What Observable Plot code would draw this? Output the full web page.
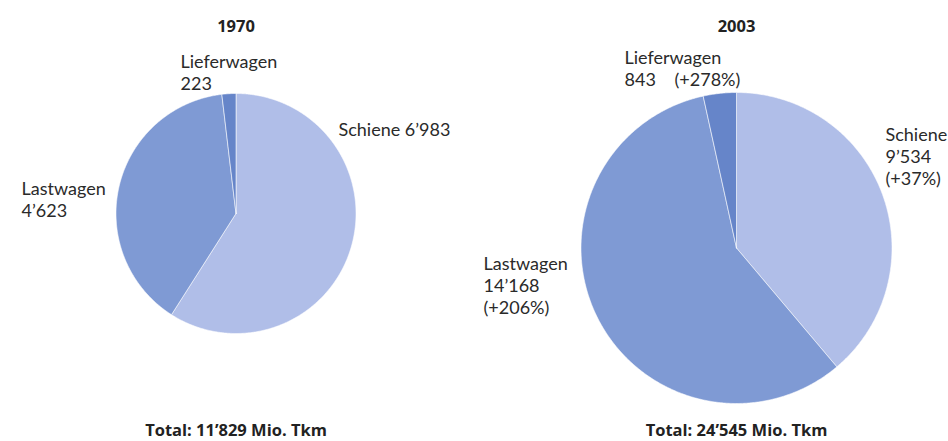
<!DOCTYPE html>
<html><head><meta charset="utf-8">
<script src="https://cdn.jsdelivr.net/npm/d3@7"></script>
<script src="https://cdn.jsdelivr.net/npm/@observablehq/plot@0.6"></script>
<style>body{margin:0;background:#fff} svg{display:block}</style>
</head><body><div id="chart"></div>
<script>
// ---- data ----
const categories = ["Schiene", "Lastwagen", "Lieferwagen"];
const years = ["1970", "2003"];
const values1970 = [6983, 4623, 223];
const values2003 = [9534, 14168, 843];
const changes2003 = ["+37%", "+206%", "+278%"];
const totals = [11829, 24545];
const colors = ["#b0bee8", "#7f9ad4", "#6685c9"];

// ---- layout (not data) ----
const W = 948, H = 441;
const pies = [{cx: 235.5, cy: 213, r: 120}, {cx: 736, cy: 247.5, r: 155.5}];
const titleY = 31, totalY = 435;

const fmt = n => d3.format(",")(n).replace(/,/g, "’");

// slice polygons from d3.pie
const pts = [];
[values1970, values2003].forEach((vals, yi) => {
  const arcs = d3.pie().sort(null)(vals);
  const {cx, cy, r} = pies[yi];
  arcs.forEach((a, i) => {
    const id = years[yi] + "-" + categories[i];
    pts.push({id, cat: categories[i], x: cx, y: cy});
    const n = Math.max(2, Math.ceil((a.endAngle - a.startAngle) / (Math.PI / 360)));
    for (let k = 0; k <= n; k++) {
      const t = a.startAngle + (a.endAngle - a.startAngle) * k / n;
      pts.push({id, cat: categories[i], x: cx + r * Math.sin(t), y: cy - r * Math.cos(t)});
    }
    pts.push({id, cat: categories[i], x: cx, y: cy});
  });
});

// label lines (text from data, placement from layout)
const labelPos = {
  "1970": {
    Schiene: {x: 338, y: 135.5, oneLine: true},
    Lastwagen: {x: 21, y: 194},
    Lieferwagen: {x: 180, y: 67}
  },
  "2003": {
    Schiene: {x: 885, y: 140.5},
    Lastwagen: {x: 483, y: 269},
    Lieferwagen: {x: 624, y: 63, changeX: 674}
  }
};
const lh = 22;
const lines = [];
categories.forEach((c, i) => {
  const p = labelPos["1970"][c];
  if (p.oneLine) lines.push({t: c + " " + fmt(values1970[i]), x: p.x, y: p.y});
  else {
    lines.push({t: c, x: p.x, y: p.y});
    lines.push({t: fmt(values1970[i]), x: p.x, y: p.y + lh});
  }
  const q = labelPos["2003"][c];
  lines.push({t: c, x: q.x, y: q.y});
  lines.push({t: fmt(values2003[i]), x: q.x, y: q.y + lh});
  if (q.changeX) lines.push({t: "(" + changes2003[i] + ")", x: q.changeX, y: q.y + lh});
  else lines.push({t: "(" + changes2003[i] + ")", x: q.x, y: q.y + 2 * lh});
});

const titles = years.map((y, i) => ({t: y, x: pies[i].cx, y: titleY}));
const totalTexts = totals.map((v, i) => ({t: "Total: " + fmt(v) + " Mio. Tkm", x: pies[i].cx, y: totalY}));

const chart = Plot.plot({
  width: W, height: H,
  margin: 0,
  x: {type: "identity", axis: null},
  y: {type: "identity", axis: null},
  color: {domain: categories, range: colors},
  style: {fontFamily: "Lato, sans-serif", background: "#fff"},
  marks: [
    Plot.line(pts, {x: "x", y: "y", z: "id", fill: "cat", stroke: "#ffffff", strokeWidth: 0.8, strokeOpacity: 0.7, curve: "linear"}),
    Plot.text(lines, {x: "x", y: "y", text: "t", textAnchor: "start", lineAnchor: "bottom", fontSize: 18, fill: "#2a2a2a"}),
    Plot.text(titles, {x: "x", y: "y", text: "t", textAnchor: "middle", lineAnchor: "bottom", fontSize: 16.5, fontWeight: "bold", fontFamily: "'Open Sans', sans-serif", fill: "#222"}),
    Plot.text(totalTexts, {x: "x", y: "y", text: "t", textAnchor: "middle", lineAnchor: "bottom", fontSize: 16.5, fontWeight: "bold", fontFamily: "'Open Sans', sans-serif", fill: "#222"})
  ]
});
document.getElementById("chart").appendChild(chart);
</script>
</body></html>
